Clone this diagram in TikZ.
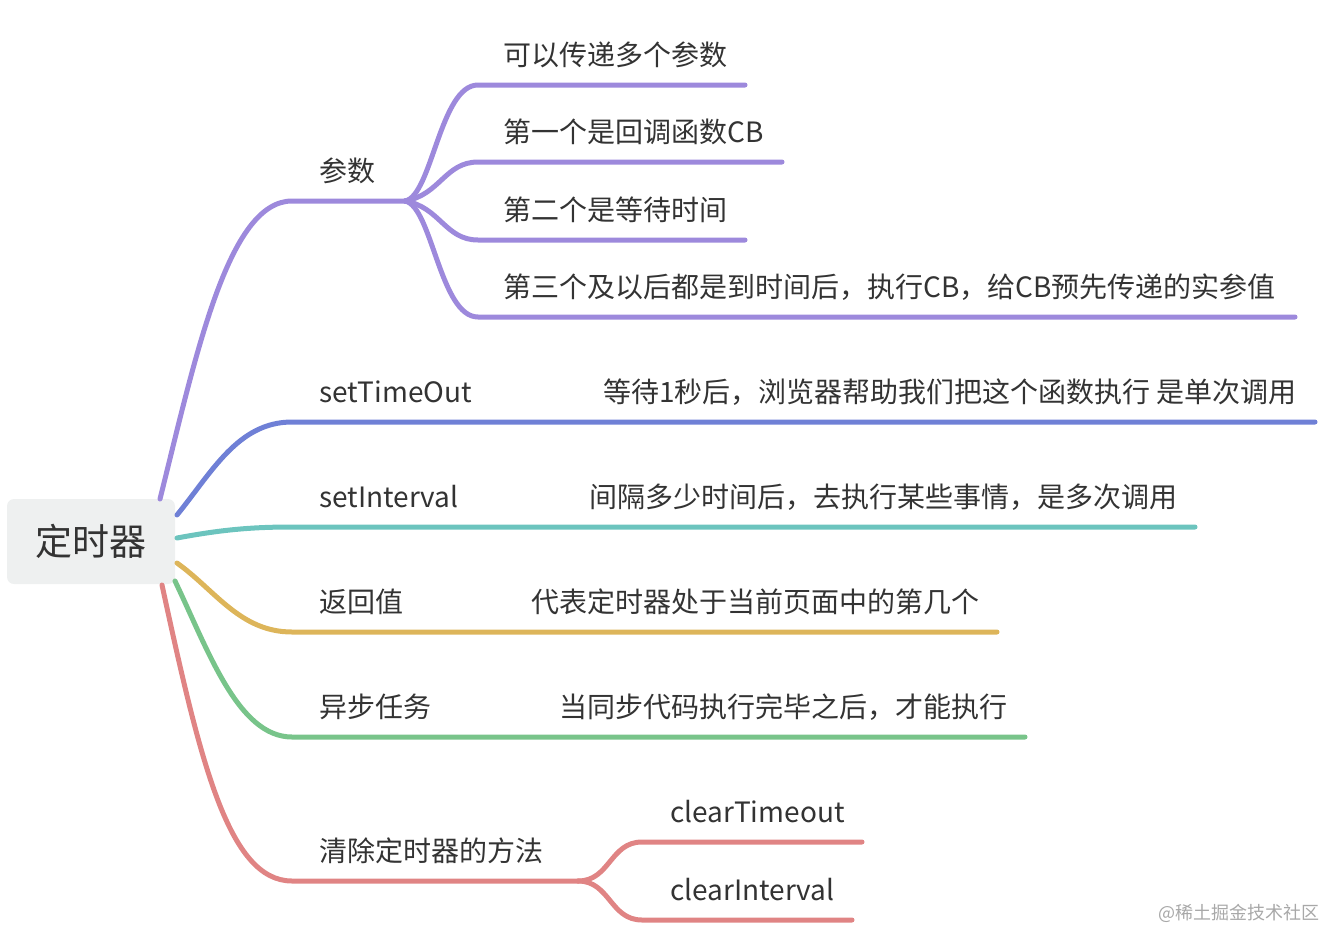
\documentclass[tikz,border=0pt]{standalone}
\usepackage{fontspec}
\setmainfont{Noto Sans CJK SC}
\definecolor{txt}{HTML}{333333}
\definecolor{rootfill}{HTML}{EEF0F0}
\definecolor{cpur}{HTML}{9D89DC}
\definecolor{cblu}{HTML}{6F80D6}
\definecolor{ctea}{HTML}{6CC4BE}
\definecolor{cyel}{HTML}{DDB55A}
\definecolor{cgre}{HTML}{78C48A}
\definecolor{cred}{HTML}{E08484}
\definecolor{wm}{HTML}{A8A8A8}
\begin{document}
\begin{tikzpicture}[x=1pt,y=-1pt,
  lbl/.style={anchor=base west, inner sep=0pt, text=txt, font=\fontsize{28}{33}\selectfont},
  br/.style={line width=5pt, line cap=round},
]
\useasboundingbox (0,0) rectangle (1344,948);
\node[fill=rootfill, rounded corners=7pt, minimum width=168pt, minimum height=85pt, inner sep=0pt, font=\fontsize{37}{44}\selectfont, text=txt] (root) at (91,541.5) {定时器};

% labels
\node[lbl] (canshu) at (319,181) {参数};
\node[lbl] (k1) at (503,65) {可以传递多个参数};
\node[lbl] (k2) at (503,142) {第一个是回调函数CB};
\node[lbl] (k3) at (503,220) {第二个是等待时间};
\node[lbl] (k4) at (503,297) {第三个及以后都是到时间后，执行CB，给CB预先传递的实参值};
\node[lbl] (sto) at (319,402) {setTimeOut};
\node[lbl] (stoc) at (603,402) {等待1秒后，浏览器帮助我们把这个函数执行 是单次调用};
\node[lbl] (sin) at (319,507) {setInterval};
\node[lbl] (sinc) at (589,507) {间隔多少时间后，去执行某些事情，是多次调用};
\node[lbl] (ret) at (319,612) {返回值};
\node[lbl] (retc) at (531,612) {代表定时器处于当前页面中的第几个};
\node[lbl] (async) at (319,717) {异步任务};
\node[lbl] (asyncc) at (559,717) {当同步代码执行完毕之后，才能执行};
\node[lbl] (clr) at (319,861) {清除定时器的方法};
\node[lbl] (ct) at (670,822) {clearTimeout};
\node[lbl] (ci) at (670,900) {clearInterval};
\node[anchor=base west, inner sep=0pt, text=wm, font=\fontsize{18}{21}\selectfont] (wmk) at (1158,919) {@稀土掘金技术社区};

% coordinates
\coordinate (p0) at (160,499);
\coordinate (p1) at (292,201);
\coordinate (pj) at (405,201);
\coordinate (a1) at (478,85);  \coordinate (b1) at (745,85);
\coordinate (a2) at (478,162); \coordinate (b2) at (782,162);
\coordinate (a3) at (478,240); \coordinate (b3) at (745,240);
\coordinate (a4) at (478,317); \coordinate (b4) at (1295,317);
\coordinate (q0) at (177,515); \coordinate (q1) at (292,422); \coordinate (q2) at (1315,422);
\coordinate (r0) at (177,538); \coordinate (r1) at (292,527); \coordinate (r2) at (1195,527);
\coordinate (s0) at (177,563); \coordinate (s1) at (292,632); \coordinate (s2) at (997,632);
\coordinate (t0) at (175,581); \coordinate (t1) at (292,737); \coordinate (t2) at (1025,737);
\coordinate (u0) at (162,585); \coordinate (u1) at (292,881); \coordinate (uj) at (578,881);
\coordinate (v1) at (642,842); \coordinate (w1) at (862,842);
\coordinate (v2) at (642,920); \coordinate (w2) at (852,920);

% branches
\draw[br,cpur] (p0) .. controls (196,355) and (228,201) .. (p1) -- (pj);
\draw[br,cpur] (pj) .. controls (432,196) and (440,85) .. (a1) -- (b1);
\draw[br,cpur] (pj) .. controls (440,195) and (445,162) .. (a2) -- (b2);
\draw[br,cpur] (pj) .. controls (440,207) and (445,240) .. (a3) -- (b3);
\draw[br,cpur] (pj) .. controls (432,206) and (440,317) .. (a4) -- (b4);
\draw[br,cblu] (q0) .. controls (212,472) and (238,422) .. (q1) -- (q2);
\draw[br,ctea] (r0) .. controls (220,530) and (250,527) .. (r1) -- (r2);
\draw[br,cyel] (s0) .. controls (215,590) and (240,632) .. (s1) -- (s2);
\draw[br,cgre] (t0) .. controls (208,650) and (238,737) .. (t1) -- (t2);
\draw[br,cred] (u0) .. controls (200,760) and (228,881) .. (u1) -- (uj);
\draw[br,cred] (uj) .. controls (610,881) and (610,842) .. (v1) -- (w1);
\draw[br,cred] (uj) .. controls (610,881) and (610,920) .. (v2) -- (w2);
\end{tikzpicture}
\end{document}
